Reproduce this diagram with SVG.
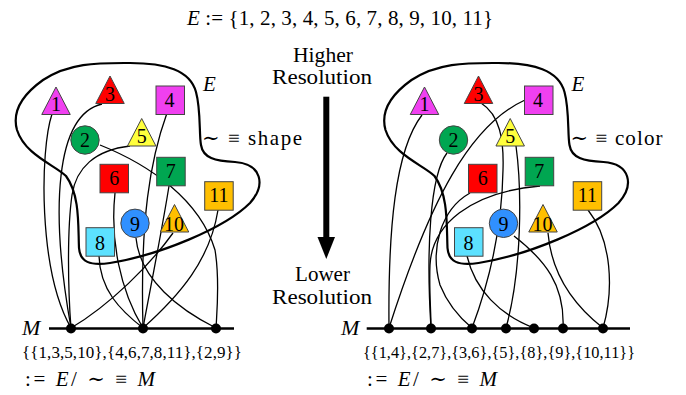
<svg xmlns="http://www.w3.org/2000/svg" width="686" height="395" viewBox="0 0 686 395" font-family="'Liberation Serif', Tinos, 'Times New Roman', 'DejaVu Serif', 'Noto Serif', serif">
<style>
.t{font-family:'Liberation Serif',Tinos,'Times New Roman','DejaVu Serif','Noto Serif',serif;fill:#000}
.i{font-style:italic}
.nl{font-family:'Liberation Serif',Tinos,'Times New Roman','DejaVu Serif','Noto Serif',serif;font-size:20px;text-anchor:middle;fill:#000}
.e{fill:none;stroke:#000;stroke-width:1.3}
.blob{fill:none;stroke:#000;stroke-width:2.2}
.axis{stroke:#000;stroke-width:2.6}
.dot{fill:#000}
.s{stroke:#444;stroke-width:1}
.mag{fill:#F040F0}.red{fill:#FF0000}.grn{fill:#00A651}.yel{fill:#FFFF3C}.org{fill:#FFBF00}.blu{fill:#3090FF}.cyn{fill:#5CE1FF}
</style>
<defs>
<polygon id="tri" points="0,0 14.25,27.5 -14.25,27.5"/>
<rect id="sq" x="0" y="0" width="28.5" height="28.5"/>
<path id="blobpath" d="M 43,80 C 70,62 100,63 130,63 C 165,63 190,70 196,92 C 201,110 199,135 201,145 C 203,158 215,161 235,162 C 262,164 266,185 250,203 C 225,228 160,255 110,263 C 90,266 80,262 79,248 C 78,225 80,195 66,176 C 55,165 25,155 17,130 C 12,112 22,95 43,80 Z"/>
</defs>

<!-- title -->
<text class="t" x="187" y="25" font-size="21" textLength="306" lengthAdjust="spacing"><tspan class="i">E</tspan> := {1, 2, 3, 4, 5, 6, 7, 8, 9, 10, 11}</text>

<!-- middle arrow and labels -->
<g id="resolution">
<text class="t" x="323" y="62" font-size="21.6" text-anchor="middle">Higher</text>
<text class="t" x="322" y="84" font-size="21.6" text-anchor="middle" textLength="100" lengthAdjust="spacingAndGlyphs">Resolution</text>
<rect x="323.3" y="96.7" width="6" height="142"/>
<polygon points="317.5,237 335,237 326.3,259"/>
<text class="t" x="322.5" y="281" font-size="21" text-anchor="middle">Lower</text>
<text class="t" x="322" y="304" font-size="21.6" text-anchor="middle" textLength="100" lengthAdjust="spacingAndGlyphs">Resolution</text>
</g>

<!-- blobs -->
<g id="blobs">
<use href="#blobpath" class="blob"/>
<use href="#blobpath" class="blob" transform="translate(368.5,0)"/>
<text class="t i" x="203" y="91" font-size="21">E</text>
<text class="t i" x="571.5" y="91" font-size="21">E</text>
<text class="t" x="202" y="145" font-size="21" textLength="100" lengthAdjust="spacing">∼ ≡ shape</text>
<text class="t" x="570.5" y="145" font-size="21" textLength="92" lengthAdjust="spacing">∼ ≡ color</text>
</g>

<!-- connectors -->
<g id="connectors">
<path class="e" d="M 52,114 C 40,150 38,270 71,328"/>
<path class="e" d="M 102,104 C 55,115 50,210 71,328"/>
<path class="e" d="M 130,146 C 95,150 76,168 72,195 C 67,230 68,290 71,328"/>
<path class="e" d="M 173,233 C 150,265 110,305 71,328"/>
<path class="e" d="M 167,113 C 150,160 140,220 143,328"/>
<path class="e" d="M 115,193 C 110,240 120,290 143,328"/>
<path class="e" d="M 169,186 C 162,230 150,290 143,328"/>
<path class="e" d="M 99,256 C 100,290 120,310 143,328"/>
<path class="e" d="M 218,210 C 210,260 180,295 143,328"/>
<path class="e" d="M 100,145 C 150,165 200,200 215,250 C 220,280 217,310 216,328"/>
<path class="e" d="M 136,238 C 140,280 180,310 216,328"/>

<path class="e" d="M 422,115 C 395,150 388,230 389,328"/>
<path class="e" d="M 525,100 C 470,125 430,200 389,328"/>
<path class="e" d="M 447,153 C 430,175 426,250 431,328"/>
<path class="e" d="M 540,186 C 470,192 432,225 430,265 C 429,290 431,310 431,328"/>
<path class="e" d="M 481,103 C 500,115 504,140 503,170 C 502,230 490,280 472,328"/>
<path class="e" d="M 470,193 C 440,210 430,250 440,285 C 448,305 460,318 472,328"/>
<path class="e" d="M 516,146 C 522,190 522,270 506,328"/>
<path class="e" d="M 467,256 C 475,290 500,315 534,328"/>
<path class="e" d="M 514,236 C 545,260 565,285 563,328"/>
<path class="e" d="M 548,233 C 552,280 580,310 603,328"/>
<path class="e" d="M 588,210 C 612,240 614,290 603,328"/>
</g>

<!-- quotient axes M -->
<g id="M-left">
<line class="axis" x1="49" y1="328.5" x2="234" y2="328.5"/>
<circle class="dot" cx="71" cy="328.5" r="5"/>
<circle class="dot" cx="143" cy="328.5" r="5"/>
<circle class="dot" cx="216" cy="328.5" r="5"/>
<text class="t i" x="22" y="335" font-size="22">M</text>
<text class="t" x="22" y="358" font-size="17" textLength="220" lengthAdjust="spacing">{{1,3,5,10},{4,6,7,8,11},{2,9}}</text>
<text class="t" x="25" y="386" font-size="21" textLength="130" lengthAdjust="spacing">:= <tspan class="i">E</tspan>/ ∼ ≡ <tspan class="i">M</tspan></text>
</g>
<g id="M-right">
<line class="axis" x1="366.7" y1="328.5" x2="630" y2="328.5"/>
<circle class="dot" cx="389" cy="328.5" r="5"/>
<circle class="dot" cx="431" cy="328.5" r="5"/>
<circle class="dot" cx="472" cy="328.5" r="5"/>
<circle class="dot" cx="506" cy="328.5" r="5"/>
<circle class="dot" cx="534" cy="328.5" r="5"/>
<circle class="dot" cx="563" cy="328.5" r="5"/>
<circle class="dot" cx="603" cy="328.5" r="5"/>
<text class="t i" x="341" y="335" font-size="22">M</text>
<text class="t" x="363" y="358" font-size="16.3" textLength="272" lengthAdjust="spacing">{{1,4},{2,7},{3,6},{5},{8},{9},{10,11}}</text>
<text class="t" x="367" y="386" font-size="21" textLength="130" lengthAdjust="spacing">:= <tspan class="i">E</tspan>/ ∼ ≡ <tspan class="i">M</tspan></text>
</g>

<!-- left nodes -->
<g id="L1"><use href="#tri" class="mag s" x="56" y="87"/><text class="nl" x="56" y="111">1</text></g>
<g id="L3"><use href="#tri" class="red s" x="110" y="76"/><text class="nl" x="110" y="100.5">3</text></g>
<g id="L4"><use href="#sq" class="mag s" x="156" y="86"/><text class="nl" x="169.5" y="106.5">4</text></g>
<g id="L2"><circle class="grn s" cx="85" cy="140" r="14.2"/><text class="nl" x="85" y="146.5">2</text></g>
<g id="L5"><use href="#tri" class="yel s" x="141.7" y="118.5"/><text class="nl" x="141.7" y="142.5">5</text></g>
<g id="L6"><use href="#sq" class="red s" x="100" y="164.3"/><text class="nl" x="114.3" y="185">6</text></g>
<g id="L7"><use href="#sq" class="grn s" x="156.7" y="157.3"/><text class="nl" x="170.7" y="178">7</text></g>
<g id="L11"><use href="#sq" class="org s" x="204.7" y="181.7"/><text class="nl" x="219" y="201.5">11</text></g>
<g id="L9"><circle class="blu s" cx="135" cy="223.3" r="14.2"/><text class="nl" x="135" y="230.5">9</text></g>
<g id="L10"><use href="#tri" class="org s" x="174.5" y="204.5"/><text class="nl" x="174" y="230.5">10</text></g>
<g id="L8"><use href="#sq" class="cyn s" x="86" y="227.7"/><text class="nl" x="100" y="250">8</text></g>

<!-- right nodes -->
<g id="R1"><use href="#tri" class="mag s" x="424.5" y="87"/><text class="nl" x="424.5" y="111">1</text></g>
<g id="R3"><use href="#tri" class="red s" x="478.5" y="76"/><text class="nl" x="478.5" y="100.5">3</text></g>
<g id="R4"><use href="#sq" class="mag s" x="524.5" y="86"/><text class="nl" x="538" y="106.5">4</text></g>
<g id="R2"><circle class="grn s" cx="453.5" cy="140" r="14.2"/><text class="nl" x="453.5" y="146.5">2</text></g>
<g id="R5"><use href="#tri" class="yel s" x="510.2" y="118.5"/><text class="nl" x="510.2" y="142.5">5</text></g>
<g id="R6"><use href="#sq" class="red s" x="468.5" y="164.3"/><text class="nl" x="482.8" y="185">6</text></g>
<g id="R7"><use href="#sq" class="grn s" x="525.2" y="157.3"/><text class="nl" x="539.2" y="178">7</text></g>
<g id="R11"><use href="#sq" class="org s" x="573.2" y="181.7"/><text class="nl" x="587.5" y="201.5">11</text></g>
<g id="R9"><circle class="blu s" cx="503.5" cy="223.3" r="14.2"/><text class="nl" x="503.5" y="230.5">9</text></g>
<g id="R10"><use href="#tri" class="org s" x="543" y="204.5"/><text class="nl" x="542.5" y="230.5">10</text></g>
<g id="R8"><use href="#sq" class="cyn s" x="454.5" y="227.7"/><text class="nl" x="468.5" y="250">8</text></g>
</svg>
